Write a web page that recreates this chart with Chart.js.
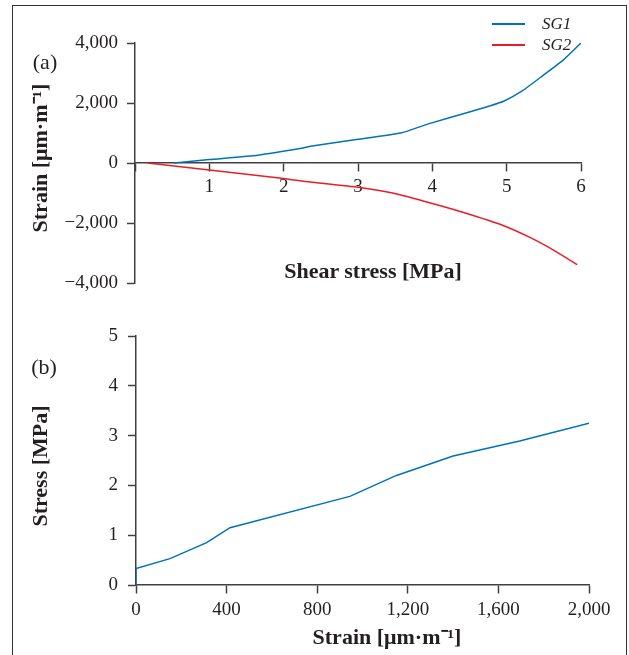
<!DOCTYPE html>
<html>
<head>
<meta charset="utf-8">
<script src="https://cdn.jsdelivr.net/npm/chart.js@4.4.0/dist/chart.umd.min.js"></script>
<style>
  html, body { margin: 0; padding: 0; background: #fff; }
  body { width: 629px; height: 655px; position: relative; overflow: hidden; font-family: "Liberation Serif", serif; color: #231f20; }
  .frame { position: absolute; left: 12px; top: 5px; width: 613px; height: 700px; border: 1.5px solid #333; }
  .box { position: absolute; left: 0; width: 629px; }
  .txt { position: absolute; transform: translate(-50%, -50%); white-space: nowrap; line-height: 1; }
  .ttl { font-weight: bold; font-size: 22px; }
  .rot { transform: translate(-50%, -50%) rotate(-90deg); }
  .lbl { font-size: 22px; }
  .leg { position: absolute; left: 492px; font-size: 17px; font-style: italic; }
  .leg span.ln { position: absolute; left: 0; top: -1px; width: 33px; height: 1.5px; }
  .leg span.tx { position: absolute; left: 50px; top: -10px; line-height: 20px; }
</style>
</head>
<body>
<div class="frame"></div>

<div class="box" style="top:0;height:310px"><canvas id="chart-a"></canvas></div>
<div class="box" style="top:310px;height:345px"><canvas id="chart-b"></canvas></div>

<div class="txt lbl" style="left:45px;top:62px">(a)</div>
<div class="txt ttl rot" style="left:40px;top:158px">Strain [μm·m⁻¹]</div>
<div class="txt ttl" style="left:373px;top:271px">Shear stress [MPa]</div>

<div class="txt lbl" style="left:44px;top:367px">(b)</div>
<div class="txt ttl rot" style="left:40px;top:466px">Stress [MPa]</div>
<div class="txt ttl" style="left:387px;top:637px">Strain [μm·m⁻¹]</div>

<div id="legend"></div>

<script>
// (a) strain gauges vs shear stress
const sg1Stress = [0.53, 1.0, 1.65, 2.22, 2.36, 3.0, 3.59, 3.97, 4.51, 4.78, 4.96, 5.22, 5.49, 5.76, 6.0];
const sg1Strain = [0, 115, 260, 480, 560, 790, 1010, 1320, 1710, 1910, 2060, 2420, 2920, 3430, 4000];
const sg2Stress = [0.17, 1.0, 2.0, 2.22, 2.36, 3.0, 3.48, 4.0, 4.42, 4.96, 5.32, 5.67, 5.95];
const sg2Strain = [0, -235, -520, -590, -635, -810, -1010, -1350, -1650, -2090, -2490, -2960, -3390];
const seriesNames = ['SG1', 'SG2'];
const seriesColors = ['#0072bc', '#ed1c24'];
const stressTicksA = [0, 1, 2, 3, 4, 5, 6];
const strainTicksA = [-4000, -2000, 0, 2000, 4000];

// (b) stress vs strain
const strainB = [0, 0, 150, 312, 415, 944, 1150, 1400, 1694, 2000];
const stressB = [0, 0.33, 0.53, 0.85, 1.15, 1.78, 2.2, 2.59, 2.89, 3.25];
const strainTicksB = [0, 400, 800, 1200, 1600, 2000];
const stressTicksB = [0, 1, 2, 3, 4, 5];

const ink = '#231f20';
const axisCol = '#404040';
const tickFont = { family: 'Liberation Serif', size: 19 };

function fmt(v) {
  return (v < 0 ? '\u2212' : '') + Math.abs(v).toLocaleString('en-US');
}
function pts(xs, ys) {
  return xs.map((x, i) => ({ x: x, y: ys[i] }));
}
function axisStyle() {
  return {
    grid: { drawOnChartArea: false, drawTicks: true, tickLength: 8, color: axisCol, tickWidth: 1.5 },
    border: { display: true, color: axisCol, width: 1.5 }
  };
}

// legend
const legend = document.getElementById('legend');
seriesNames.forEach((name, i) => {
  const d = document.createElement('div');
  d.className = 'leg';
  d.style.top = (24 + i * 21) + 'px';
  d.innerHTML = '<span class="ln" style="background:' + seriesColors[i] + '"></span><span class="tx">' + name + '</span>';
  legend.appendChild(d);
});

new Chart(document.getElementById('chart-a'), {
  type: 'line',
  data: {
    datasets: [
      { label: seriesNames[0], data: pts(sg1Stress, sg1Strain), borderColor: seriesColors[0], borderWidth: 1.5, pointRadius: 0, tension: 0.15, fill: false },
      { label: seriesNames[1], data: pts(sg2Stress, sg2Strain), borderColor: seriesColors[1], borderWidth: 1.5, pointRadius: 0, tension: 0.15, fill: false }
    ]
  },
  options: {
    responsive: true,
    maintainAspectRatio: false,
    animation: false,
    layout: { padding: { left: 0, right: 48, top: 43, bottom: 27 } },
    plugins: { legend: { display: false }, tooltip: { enabled: false } },
    scales: {
      x: Object.assign(axisStyle(), {
        type: 'linear',
        position: { y: 0 },
        min: 0, max: 6,
        afterBuildTicks: s => { s.ticks = stressTicksA.map(v => ({ value: v })); },
        ticks: { font: tickFont, color: ink, padding: 5, maxRotation: 0, callback: v => v === 0 ? '' : String(v) }
      }),
      y: Object.assign(axisStyle(), {
        type: 'linear',
        min: -4000, max: 4000,
        afterBuildTicks: s => { s.ticks = strainTicksA.map(v => ({ value: v })); },
        afterFit: s => { s.width = 135; },
        ticks: { font: tickFont, color: ink, padding: 9, callback: v => fmt(v) }
      })
    }
  }
});

new Chart(document.getElementById('chart-b'), {
  type: 'line',
  data: {
    datasets: [
      { label: 'Stress', data: pts(strainB, stressB), borderColor: seriesColors[0], borderWidth: 1.5, pointRadius: 0, tension: 0, fill: false }
    ]
  },
  options: {
    responsive: true,
    maintainAspectRatio: false,
    animation: false,
    layout: { padding: { left: 0, right: 40, top: 26, bottom: 70 } },
    plugins: { legend: { display: false }, tooltip: { enabled: false } },
    scales: {
      x: Object.assign(axisStyle(), {
        type: 'linear',
        position: { y: 0 },
        min: 0, max: 2000,
        afterBuildTicks: s => { s.ticks = strainTicksB.map(v => ({ value: v })); },
        ticks: { font: tickFont, color: ink, padding: 6, maxRotation: 0, callback: v => fmt(v) }
      }),
      y: Object.assign(axisStyle(), {
        type: 'linear',
        min: 0, max: 5,
        afterBuildTicks: s => { s.ticks = stressTicksB.map(v => ({ value: v })); },
        afterFit: s => { s.width = 136; },
        ticks: { font: tickFont, color: ink, padding: 10, callback: v => String(v) }
      })
    }
  }
});
</script>
</body>
</html>
